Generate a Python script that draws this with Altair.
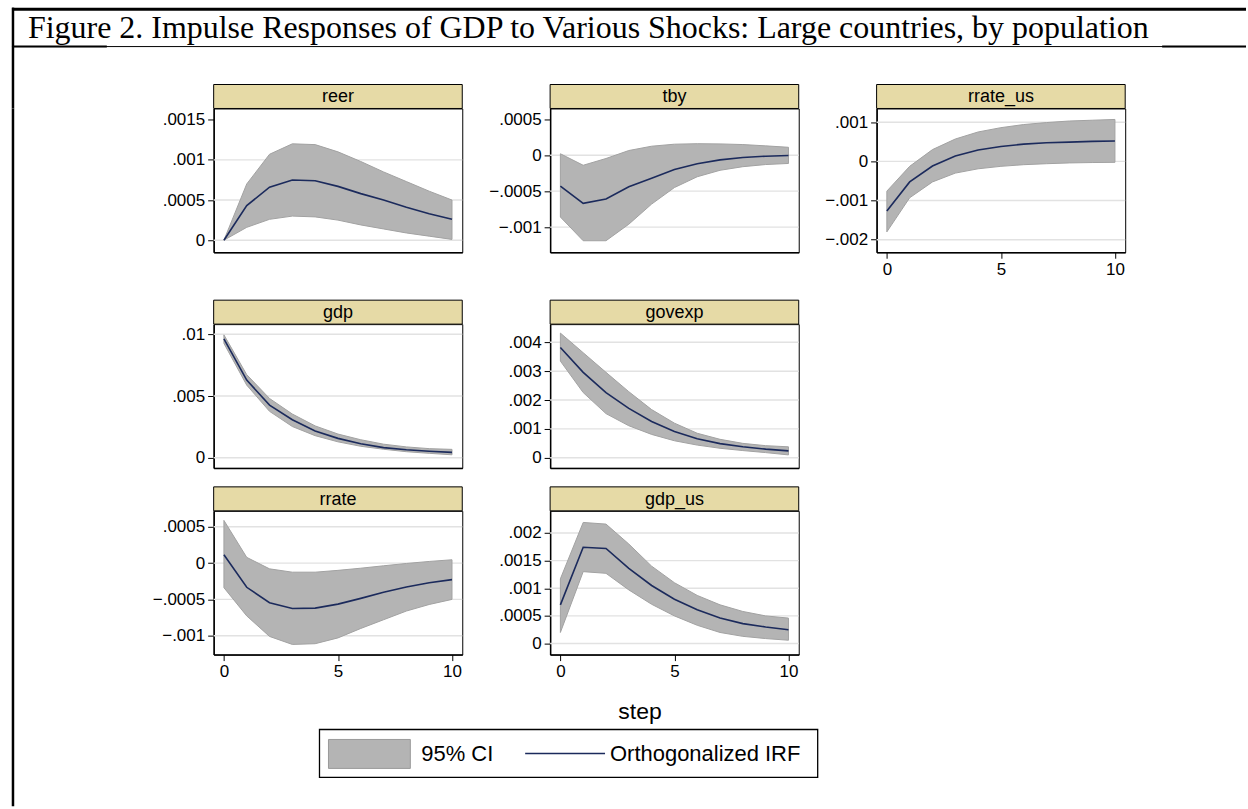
import altair as alt
import pandas as pd

# ---------------------------------------------------------------------------
# Impulse responses (orthogonalized IRF) with 95% confidence bands, steps 0-10
# ---------------------------------------------------------------------------
STEPS = list(range(11))

reer_irf = [0.0, 0.00043, 0.00066, 0.00075, 0.00074, 0.00067, 0.00058, 0.00050, 0.00041, 0.00033, 0.00026]
reer_lo = [0.0, 0.00016, 0.00026, 0.00030, 0.00029, 0.00025, 0.00019, 0.00014, 0.00009, 0.00005, 0.00001]
reer_hi = [0.0, 0.00070, 0.00107, 0.00120, 0.00119, 0.00110, 0.00098, 0.00085, 0.00073, 0.00061, 0.00050]

tby_irf = [-0.00043, -0.00067, -0.00061, -0.00044, -0.00032, -0.00020, -0.00012, -0.000065, -0.000032, -0.000014, -0.000005]
tby_lo = [-0.00086, -0.00119, -0.00119, -0.00096, -0.00068, -0.00045, -0.00030, -0.00021, -0.00016, -0.00013, -0.000115]
tby_hi = [0.00002, -0.00014, -0.000046, 0.000065, 0.000125, 0.000153, 0.00016, 0.000157, 0.000148, 0.00013, 0.00011]

rrate_us_irf = [-0.00127, -0.000525, -0.00012, 0.000136, 0.00029, 0.00038, 0.00044, 0.000475, 0.00049, 0.00051, 0.00052]
rrate_us_lo = [-0.0018, -0.00093, -0.000525, -0.0003, -0.00019, -0.000127, -0.000085, -0.00006, -0.00004, -0.00003, -0.000025]
rrate_us_hi = [-0.00076, -0.000127, 0.0003, 0.00057, 0.00075, 0.00086, 0.00094, 0.00099, 0.00103, 0.00105, 0.00107]

gdp_irf = [0.00962, 0.00629, 0.00426, 0.00308, 0.00217, 0.00157, 0.00113, 0.00082, 0.00065, 0.00053, 0.00044]
gdp_lo = [0.00926, 0.00588, 0.00376, 0.00253, 0.00179, 0.00129, 0.00093, 0.00069, 0.00049, 0.00036, 0.00024]
gdp_hi = [0.00995, 0.00673, 0.00480, 0.00354, 0.00258, 0.00192, 0.00146, 0.00110, 0.00088, 0.00074, 0.00068]

govexp_irf = [0.00382, 0.00296, 0.00226, 0.00171, 0.00126, 0.00091, 0.00066, 0.00049, 0.00038, 0.00030, 0.00024]
govexp_lo = [0.00335, 0.00226, 0.00153, 0.00111, 0.00081, 0.00059, 0.00044, 0.00033, 0.00025, 0.00018, 0.00010]
govexp_hi = [0.00432, 0.00364, 0.00296, 0.00229, 0.00167, 0.00120, 0.00085, 0.00064, 0.00050, 0.00042, 0.00038]

rrate_irf = [0.000116, -0.000333, -0.000546, -0.000625, -0.00062, -0.000565, -0.000486, -0.0004, -0.00033, -0.00027, -0.000227]
rrate_lo = [-0.000338, -0.000727, -0.00101, -0.00112, -0.00111, -0.00103, -0.0009, -0.00078, -0.00066, -0.00057, -0.0005]
rrate_hi = [0.000588, 0.000079, -0.000079, -0.000125, -0.000125, -0.0001, -0.00007, -0.000037, -0.000005, 0.000023, 0.000046]

gdp_us_irf = [0.0007, 0.00174, 0.00172, 0.00136, 0.00105, 0.0008, 0.00061, 0.00046, 0.00036, 0.0003, 0.00025]
gdp_us_lo = [0.0002, 0.0013, 0.00127, 0.00097, 0.00071, 0.0005, 0.00033, 0.0002, 0.00013, 0.00009, 0.00006]
gdp_us_hi = [0.00117, 0.00219, 0.00216, 0.0018, 0.0014, 0.0011, 0.00087, 0.0007, 0.00058, 0.0005, 0.00046]

# y-axis ticks, gridlines and visible range for each impulse variable
reer_ticks = [0, 0.0005, 0.001, 0.0015]
reer_grid = [0, 0.0005, 0.001]
reer_range = [-0.00015, 0.00164]

tby_ticks = [-0.001, -0.0005, 0, 0.0005]
tby_grid = [-0.001, -0.0005, 0]
tby_range = [-0.00135, 0.00065]

rrate_us_ticks = [-0.002, -0.001, 0, 0.001]
rrate_us_grid = [-0.002, -0.001, 0, 0.001]
rrate_us_range = [-0.00232, 0.00135]

gdp_ticks = [0, 0.005, 0.01]
gdp_grid = [0, 0.005, 0.01]
gdp_range = [-0.00082, 0.01082]

govexp_ticks = [0, 0.001, 0.002, 0.003, 0.004]
govexp_grid = [0, 0.001, 0.002, 0.003, 0.004]
govexp_range = [-0.00035, 0.00463]

rrate_ticks = [-0.001, -0.0005, 0, 0.0005]
rrate_grid = [-0.001, -0.0005, 0, 0.0005]
rrate_range = [-0.00126, 0.00072]

gdp_us_ticks = [0, 0.0005, 0.001, 0.0015, 0.002]
gdp_us_grid = [0, 0.0005, 0.001, 0.0015, 0.002]
gdp_us_range = [-0.0002, 0.0024]

step_ticks = [0, 5, 10]
step_range = [-0.45, 10.45]

FIGURE_TITLE = "Figure 2. Impulse Responses of GDP to Various Shocks: Large countries, by population"
X_TITLE = "step"
LEGEND_LABELS = ["95% CI", "Orthogonalized IRF"]

# ---------------------------------------------------------------------------
# styling
# ---------------------------------------------------------------------------
SANS = "Liberation Sans"
SERIF = "Liberation Serif"
CI_FILL = "#b4b4b4"
CI_EDGE = "#a2a2a2"
NAVY = "#1b2a5c"
STRIP = "#e6daa6"
GRID = "#e2e2e2"

W = 249      # plot width (px)
H = 144      # plot height (px), strip sits above it
HDR = 24     # strip height

Y_LABELS = "datum.value == 0 ? '0' : replace(format(datum.value, '~g'), '0.', '.')"

one = pd.DataFrame({"ci": [LEGEND_LABELS[0]], "irf": [LEGEND_LABELS[1]], "x": [X_TITLE]})


def panel(name, irf, lo, hi, yrange, ticks, grid, show_x):
    df = pd.DataFrame({"step": STEPS, "irf": irf, "lo": lo, "hi": hi})
    yscale = alt.Scale(domain=yrange, nice=False, zero=False)
    xscale = alt.Scale(domain=step_range, nice=False, zero=False)
    yaxis = alt.Axis(values=ticks, labelExpr=Y_LABELS, grid=False, title=None)
    xaxis = alt.Axis(values=step_ticks, labels=show_x, ticks=show_x, grid=False,
                     title=None, format="d")

    gridlines = alt.Chart(pd.DataFrame({"v": grid})).mark_rule(
        color=GRID, strokeWidth=1.4
    ).encode(
        y=alt.Y("v:Q", scale=yscale, axis=yaxis),
        x=alt.value(0), x2=alt.value(W),
    )
    band = alt.Chart(df).mark_area(
        color=CI_FILL, stroke=CI_EDGE, strokeWidth=1
    ).encode(
        x=alt.X("step:Q", scale=xscale, axis=xaxis),
        y=alt.Y("lo:Q", scale=yscale, axis=yaxis),
        y2="hi:Q",
    )
    line = alt.Chart(df).mark_line(color=NAVY, strokeWidth=1.6).encode(
        x=alt.X("step:Q", scale=xscale, axis=xaxis),
        y=alt.Y("irf:Q", scale=yscale, axis=yaxis),
    )
    head = pd.DataFrame({"name": [name]})
    strip = alt.Chart(head).mark_rect(
        fill=STRIP, stroke="black", strokeWidth=1
    ).encode(
        x=alt.value(0), x2=alt.value(W), y=alt.value(-HDR), y2=alt.value(0)
    )
    label = alt.Chart(head).mark_text(
        font=SANS, fontSize=18, color="black", baseline="middle", align="center"
    ).encode(
        x=alt.value(W / 2), y=alt.value(-HDR / 2 + 1), text="name:N"
    )
    return alt.layer(gridlines, band, line, strip, label).properties(
        width=W, height=H,
        view=alt.ViewBackground(stroke="black", strokeWidth=1),
    )


def spacer(w, h):
    return alt.Chart(one).mark_point(opacity=0).encode(
        x=alt.value(0), y=alt.value(0)
    ).properties(width=w, height=h)


p_reer = panel("reer", reer_irf, reer_lo, reer_hi, reer_range, reer_ticks, reer_grid, False)
p_tby = panel("tby", tby_irf, tby_lo, tby_hi, tby_range, tby_ticks, tby_grid, False)
p_rrate_us = panel("rrate_us", rrate_us_irf, rrate_us_lo, rrate_us_hi, rrate_us_range,
                   rrate_us_ticks, rrate_us_grid, True)
p_gdp = panel("gdp", gdp_irf, gdp_lo, gdp_hi, gdp_range, gdp_ticks, gdp_grid, False)
p_govexp = panel("govexp", govexp_irf, govexp_lo, govexp_hi, govexp_range,
                 govexp_ticks, govexp_grid, False)
p_rrate = panel("rrate", rrate_irf, rrate_lo, rrate_hi, rrate_range, rrate_ticks, rrate_grid, True)
p_gdp_us = panel("gdp_us", gdp_us_irf, gdp_us_lo, gdp_us_hi, gdp_us_range,
                 gdp_us_ticks, gdp_us_grid, True)

# x-axis title and legend box under the grid (drawn from a narrow anchor cell)
step_title = alt.Chart(one).mark_text(font=SANS, fontSize=23, color="black",
                                      baseline="middle").encode(
    x=alt.value(427), y=alt.value(12), text="x:N")
legend_box = alt.Chart(one).mark_rect(fill="white", stroke="black", strokeWidth=1.3).encode(
    x=alt.value(106), x2=alt.value(605), y=alt.value(29), y2=alt.value(77))
legend_swatch = alt.Chart(one).mark_rect(fill=CI_FILL, stroke="#9a9a9a", strokeWidth=1).encode(
    x=alt.value(115), x2=alt.value(197), y=alt.value(39), y2=alt.value(68))
legend_ci = alt.Chart(one).mark_text(font=SANS, fontSize=22, color="black", align="left",
                                     baseline="middle").encode(
    x=alt.value(208), y=alt.value(54), text="ci:N")
legend_line = alt.Chart(one).mark_rule(color=NAVY, strokeWidth=1.6).encode(
    x=alt.value(312), x2=alt.value(392), y=alt.value(53))
legend_irf = alt.Chart(one).mark_text(font=SANS, fontSize=22, color="black", align="left",
                                      baseline="middle").encode(
    x=alt.value(397), y=alt.value(54), text="irf:N")
bottom = alt.layer(step_title, legend_box, legend_swatch, legend_ci, legend_line,
                   legend_irf).properties(width=1, height=85)

# 5-column grid: panels separated by fixed gap columns/rows
G1, G2 = 88, 78          # horizontal gaps between panel columns
R1, R2, R3 = 72, 43, 46  # vertical gaps between panel rows / legend
cells = [
    p_reer, spacer(G1, 1), p_tby, spacer(G2, 1), p_rrate_us,
    spacer(1, R1), spacer(1, 1), spacer(1, 1), spacer(1, 1), spacer(1, 1),
    p_gdp, spacer(G1, 1), p_govexp, spacer(G2, 1), spacer(1, 1),
    spacer(1, R2), spacer(1, 1), spacer(1, 1), spacer(1, 1), spacer(1, 1),
    p_rrate, spacer(G1, 1), p_gdp_us, spacer(G2, 1), spacer(1, 1),
    spacer(1, R3), spacer(1, 1), spacer(1, 1), spacer(1, 1), spacer(1, 1),
    bottom, spacer(1, 1), spacer(1, 1), spacer(1, 1), spacer(1, 1),
]
content = alt.concat(*cells, columns=5, spacing=0, bounds="flush")

# left border running down the page
LH = 699
left_border = alt.Chart(one).mark_rule(color="black", strokeWidth=2.5).encode(
    x=alt.value(1), y=alt.value(0), y2=alt.value(LH)).properties(width=1, height=LH)

lower = alt.hconcat(left_border, content, spacing=201, bounds="flush")

# title cell with its borders
TW, TH = 1236, 101
tdf = pd.DataFrame({"t": [FIGURE_TITLE]})
title_text = alt.Chart(tdf).mark_text(font=SERIF, fontSize=32, color="black", align="left",
                                      baseline="alphabetic").encode(
    x=alt.value(16), y=alt.value(30), text="t:N")
top_rule = alt.Chart(tdf).mark_rule(color="black", strokeWidth=3).encode(
    x=alt.value(0), x2=alt.value(TW), y=alt.value(1.5))
left_rule = alt.Chart(tdf).mark_rule(color="black", strokeWidth=2.5).encode(
    x=alt.value(1), y=alt.value(0), y2=alt.value(TH))
under_thin = alt.Chart(tdf).mark_rule(color="black", strokeWidth=1).encode(
    x=alt.value(0), x2=alt.value(TW), y=alt.value(39))
under_left = alt.Chart(tdf).mark_rule(color="black", strokeWidth=2).encode(
    x=alt.value(0), x2=alt.value(95), y=alt.value(39))
under_right = alt.Chart(tdf).mark_rule(color="black", strokeWidth=2).encode(
    x=alt.value(1152), x2=alt.value(TW), y=alt.value(39))
title_cell = alt.layer(top_rule, left_rule, under_thin, under_left, under_right,
                       title_text).properties(width=TW, height=TH)

chart = alt.vconcat(title_cell, lower, spacing=0, bounds="flush").properties(
    padding={"left": 10, "top": 5, "right": 0, "bottom": 0},
    background="white",
).configure_view(
    stroke="transparent"
).configure_axis(
    labelFont=SANS, labelFontSize=17, labelColor="black",
    tickColor="black", tickSize=6, tickWidth=1,
    domainColor="black", domainWidth=1.5, labelPadding=3,
)

chart.save("out.html", embed_options={"renderer": "svg", "actions": False})
